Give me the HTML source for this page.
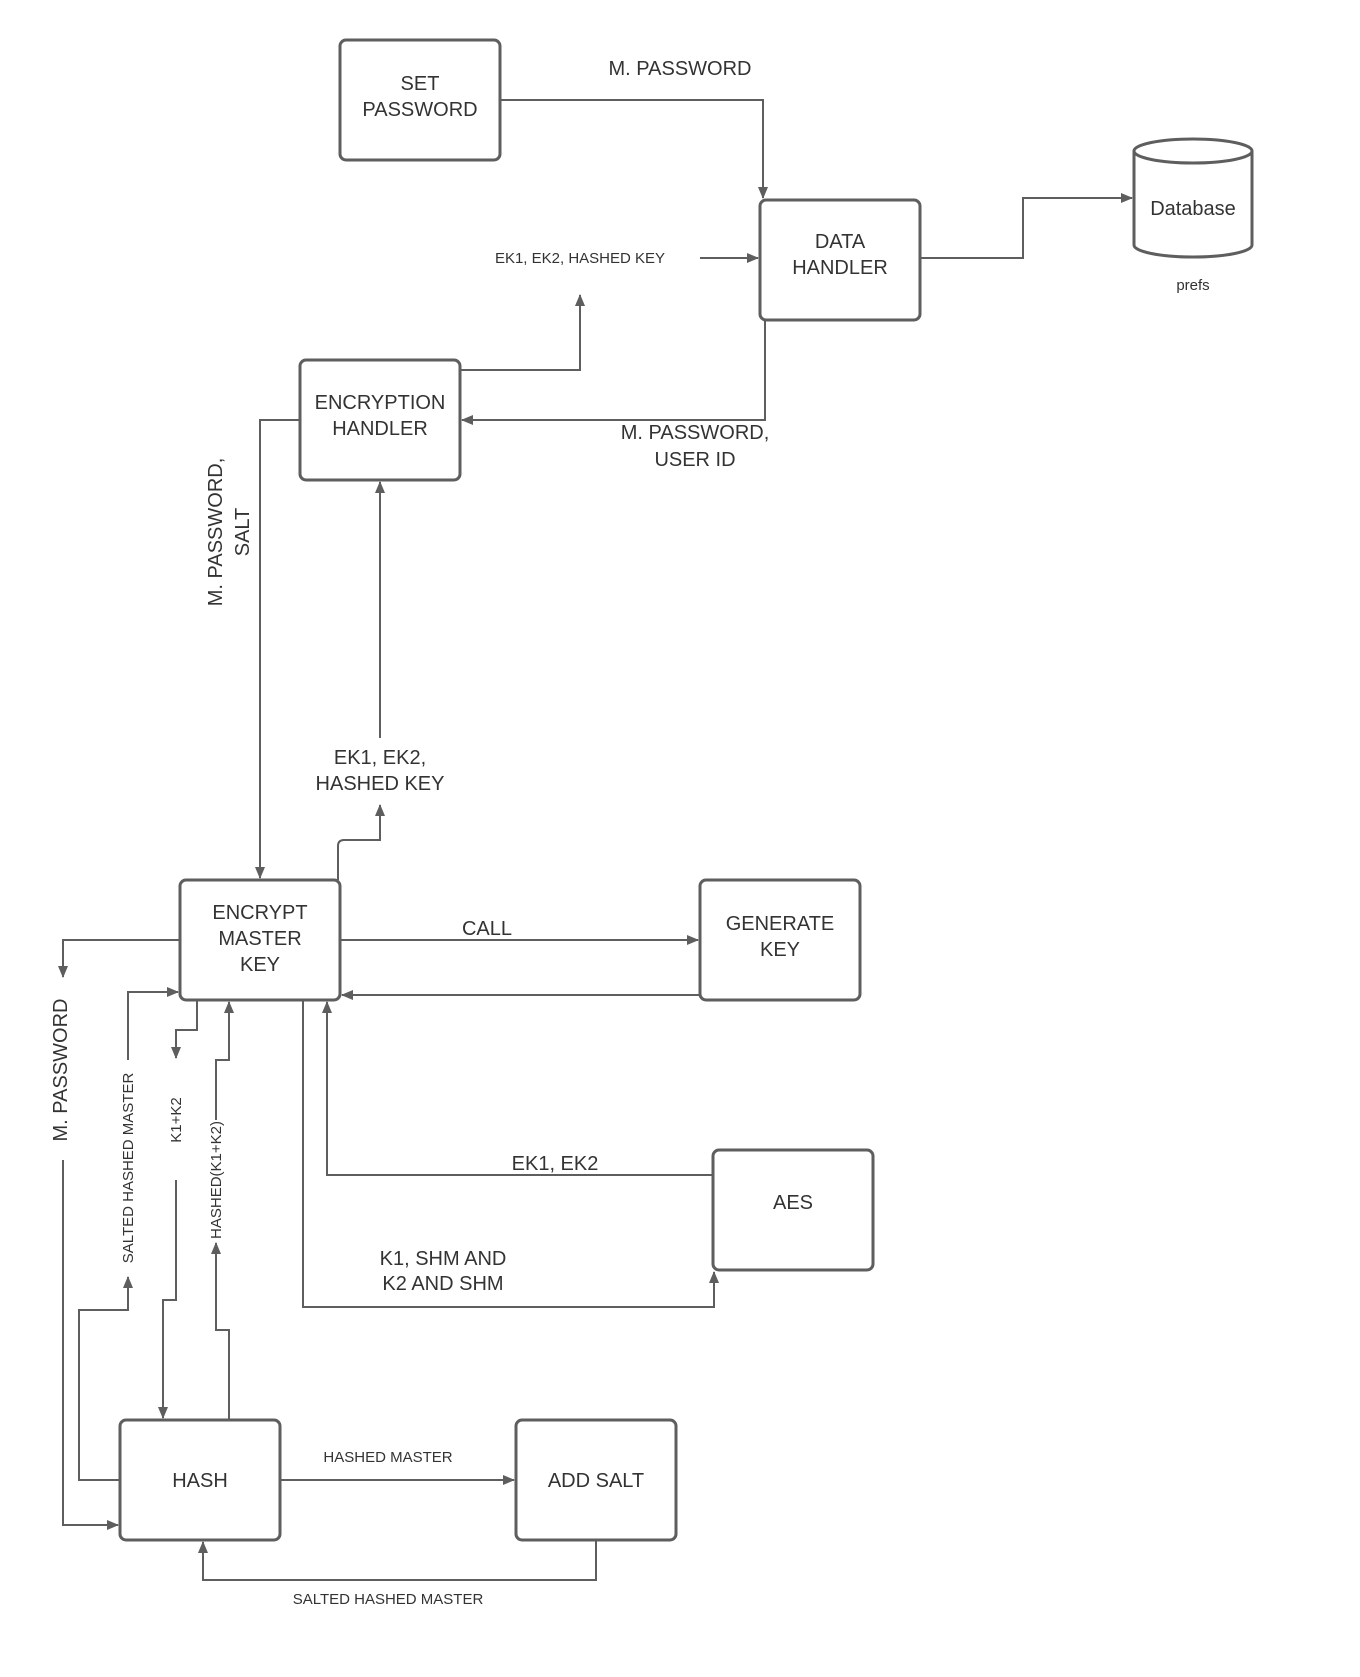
<!DOCTYPE html>
<html><head><meta charset="utf-8"><style>
html,body{margin:0;padding:0;background:#fff;}
svg{display:block;}
text{font-family:"Liberation Sans",Arial,sans-serif;fill:#333;}
</style></head><body>
<svg width="1360" height="1677" viewBox="0 0 1360 1677" xmlns="http://www.w3.org/2000/svg">
<defs>
<marker id="a" markerWidth="12" markerHeight="10" refX="11" refY="5" orient="auto" markerUnits="userSpaceOnUse">
<path d="M0,0 L12,5 L0,10 z" fill="#5e5e5e"/>
</marker>
</defs>
<g fill="#fff" stroke="#5e5e5e" stroke-width="3">
<rect x="340" y="40" width="160" height="120" rx="6"/>
<rect x="760" y="200" width="160" height="120" rx="6"/>
<rect x="300" y="360" width="160" height="120" rx="6"/>
<rect x="180" y="880" width="160" height="120" rx="6"/>
<rect x="700" y="880" width="160" height="120" rx="6"/>
<rect x="713" y="1150" width="160" height="120" rx="6"/>
<rect x="120" y="1420" width="160" height="120" rx="6"/>
<rect x="516" y="1420" width="160" height="120" rx="6"/>
<path d="M1134,151 L1134,245 A59,12 0 0 0 1252,245 L1252,151"/>
<ellipse cx="1193" cy="151" rx="59" ry="12"/>
</g>
<g fill="none" stroke="#5e5e5e" stroke-width="2" marker-end="url(#a)">
<path d="M500,100 H763 V198"/>
<path d="M700,258 H758"/>
<path d="M460,370 H580 V295"/>
<path d="M920,258 H1023 V198 H1132"/>
<path d="M765,320 V420 H462"/>
<path d="M300,420 H260 V878"/>
<path d="M380,738 V482"/>
<path d="M338,880 V846 Q338,840 344,840 H380 V805"/>
<path d="M340,940 H698"/>
<path d="M700,995 H342"/>
<path d="M713,1175 H327 V1002"/>
<path d="M303,1000 V1307 H714 V1272"/>
<path d="M180,940 H63 V977"/>
<path d="M63,1160 V1525 H118"/>
<path d="M128,1060 V992 H178"/>
<path d="M120,1480 H79 V1310 H128 V1277"/>
<path d="M197,1000 V1030 H176 V1058"/>
<path d="M176,1180 V1300 H163 V1418"/>
<path d="M229,1420 V1330 H216 V1243"/>
<path d="M216,1120 V1060 H229 V1002"/>
<path d="M280,1480 H514"/>
<path d="M596,1540 V1580 H203 V1542"/>
</g>
<g font-size="20" text-anchor="middle">
<text x="420" y="90">SET</text><text x="420" y="116">PASSWORD</text>
<text x="680" y="75">M. PASSWORD</text>
<text x="840" y="248">DATA</text><text x="840" y="274">HANDLER</text>
<text x="1193" y="215">Database</text>
<text x="380" y="409">ENCRYPTION</text><text x="380" y="435">HANDLER</text>
<text x="695" y="439">M. PASSWORD,</text><text x="695" y="466">USER ID</text>
<text x="380" y="764">EK1, EK2,</text><text x="380" y="790">HASHED KEY</text>
<text x="260" y="919">ENCRYPT</text><text x="260" y="945">MASTER</text><text x="260" y="971">KEY</text>
<text x="780" y="930">GENERATE</text><text x="780" y="956">KEY</text>
<text x="487" y="935">CALL</text>
<text x="555" y="1170">EK1, EK2</text>
<text x="793" y="1209">AES</text>
<text x="443" y="1265">K1, SHM AND</text><text x="443" y="1290">K2 AND SHM</text>
<text x="200" y="1487">HASH</text>
<text x="596" y="1487">ADD SALT</text>
<text transform="translate(222,532) rotate(-90)">M. PASSWORD,</text>
<text transform="translate(249,532) rotate(-90)">SALT</text>
<text transform="translate(67,1070) rotate(-90)">M. PASSWORD</text>
</g>
<g font-size="15" text-anchor="middle">
<text x="580" y="263">EK1, EK2, HASHED KEY</text>
<text x="1193" y="290">prefs</text>
<text x="388" y="1462">HASHED MASTER</text>
<text x="388" y="1604">SALTED HASHED MASTER</text>
<text transform="translate(133,1168) rotate(-90)">SALTED HASHED MASTER</text>
<text transform="translate(181,1120) rotate(-90)">K1+K2</text>
<text transform="translate(221,1180) rotate(-90)">HASHED(K1+K2)</text>
</g>
</svg>
</body></html>
